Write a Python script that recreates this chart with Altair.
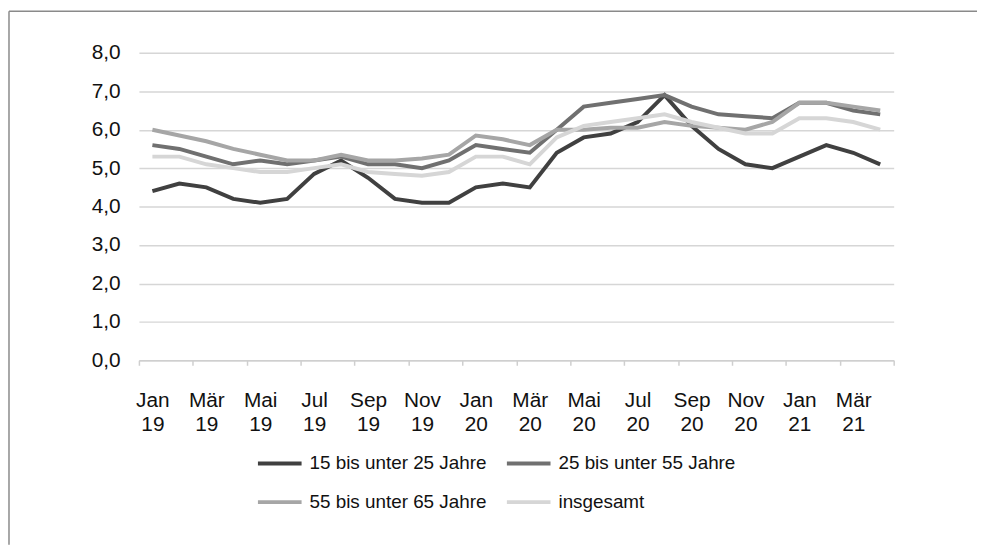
import altair as alt
import pandas as pd

months = ["Jan 19", "Feb 19", "Mär 19", "Apr 19", "Mai 19", "Jun 19", "Jul 19", "Aug 19",
          "Sep 19", "Okt 19", "Nov 19", "Dez 19", "Jan 20", "Feb 20", "Mär 20", "Apr 20",
          "Mai 20", "Jun 20", "Jul 20", "Aug 20", "Sep 20", "Okt 20", "Nov 20", "Dez 20",
          "Jan 21", "Feb 21", "Mär 21", "Apr 21"]

series_names = ["15 bis unter 25 Jahre", "25 bis unter 55 Jahre",
                "55 bis unter 65 Jahre", "insgesamt"]

s_15_25 = [4.4, 4.6, 4.5, 4.2, 4.1, 4.2, 4.85, 5.2, 4.75, 4.2, 4.1, 4.1,
           4.5, 4.6, 4.5, 5.4, 5.8, 5.9, 6.2, 6.9, 6.1, 5.5, 5.1, 5.0,
           5.3, 5.6, 5.4, 5.1]
s_25_55 = [5.6, 5.5, 5.3, 5.1, 5.2, 5.1, 5.2, 5.3, 5.1, 5.1, 5.0, 5.2,
           5.6, 5.5, 5.4, 6.0, 6.6, 6.7, 6.8, 6.9, 6.6, 6.4, 6.35, 6.3,
           6.7, 6.7, 6.5, 6.4]
s_55_65 = [6.0, 5.85, 5.7, 5.5, 5.35, 5.2, 5.2, 5.35, 5.2, 5.2, 5.25, 5.35,
           5.85, 5.75, 5.6, 6.0, 6.0, 6.05, 6.05, 6.2, 6.1, 6.05, 6.0, 6.2,
           6.7, 6.7, 6.6, 6.5]
s_total = [5.3, 5.3, 5.1, 5.0, 4.9, 4.9, 5.0, 5.1, 4.9, 4.85, 4.8, 4.9,
           5.3, 5.3, 5.1, 5.8, 6.1, 6.2, 6.3, 6.4, 6.2, 6.05, 5.9, 5.9,
           6.3, 6.3, 6.2, 6.0]

colors = ["#404040", "#707070", "#a6a6a6", "#d6d6d6"]

tick_labels = ["Jan 19", "Mär 19", "Mai 19", "Jul 19", "Sep 19", "Nov 19", "Jan 20",
               "Mär 20", "Mai 20", "Jul 20", "Sep 20", "Nov 20", "Jan 21", "Mär 21"]
y_ticks = [0, 1, 2, 3, 4, 5, 6, 7, 8]

rows = []
for name, vals in zip(series_names, [s_15_25, s_25_55, s_55_65, s_total]):
    for i, (m, v) in enumerate(zip(months, vals)):
        rows.append({"Monat": m, "idx": i, "Gruppe": name, "Wert": v})
df = pd.DataFrame(rows)

W, H = 761, 310
n = len(months)
band = W / n

label_js = "[" + ",".join("'" + t + "'" for t in tick_labels) + ",'']"
x_label_expr = "split(" + label_js + "[round(datum.value/2)], ' ')"

lines = alt.Chart(df).transform_calculate(
    pos="datum.idx + 0.5"
).mark_line(strokeWidth=4).encode(
    x=alt.X("pos:Q",
            scale=alt.Scale(domain=[0, n], nice=False, zero=False),
            axis=alt.Axis(values=list(range(0, n + 1, 2)), labelExpr=x_label_expr,
                          labelOffset=band / 2, labelFlush=False, labelOverlap=False,
                          labelBound=False, grid=False, domainColor="#cfcfcf",
                          domainWidth=1.5, tickColor="#cfcfcf", tickWidth=1.5,
                          tickSize=5, labelPadding=25, labelFontSize=21,
                          labelLineHeight=24, labelColor="#111111", title=None,
                          labelAlign="center")),
    y=alt.Y("Wert:Q",
            scale=alt.Scale(domain=[0, 8], nice=False),
            axis=alt.Axis(values=y_ticks,
                          labelExpr="replace(format(datum.value, '.1f'), '.', ',')",
                          domain=False, ticks=False, gridColor="#d6d6d6",
                          gridWidth=1.5, labelPadding=19, labelFontSize=21,
                          labelColor="#111111", title=None)),
    color=alt.Color("Gruppe:N",
                    scale=alt.Scale(domain=series_names, range=colors),
                    legend=alt.Legend(orient="none", legendX=118, legendY=390,
                                      direction="horizontal", columns=2,
                                      symbolType="stroke",
                                      symbolSize=1936, symbolStrokeWidth=4,
                                      labelFontSize=19, labelOffset=6, labelLimit=0,
                                      columnPadding=12, rowPadding=5,
                                      labelColor="#111111", title=None, padding=0)),
    order="idx:Q",
)

frame_df = pd.DataFrame({"a": [0]})
frame_top = alt.Chart(frame_df).mark_rule(color="#8a8a8a", strokeWidth=1.5).encode(
    x=alt.value(-131), x2=alt.value(977 - 132), y=alt.value(-42))
frame_left = alt.Chart(frame_df).mark_rule(color="#8a8a8a", strokeWidth=1.5).encode(
    x=alt.value(-131), y=alt.value(-42), y2=alt.value(539 - 43))

chart = alt.layer(lines, frame_top, frame_left).properties(
    width=W, height=H,
    autosize=alt.AutoSizeParams(type="none"),
    padding={"left": 132, "top": 43, "right": 84, "bottom": 185},
).configure(font="Liberation Sans").configure_view(stroke=None)

chart.save("out.html", embed_options={"renderer": "svg", "actions": False})
